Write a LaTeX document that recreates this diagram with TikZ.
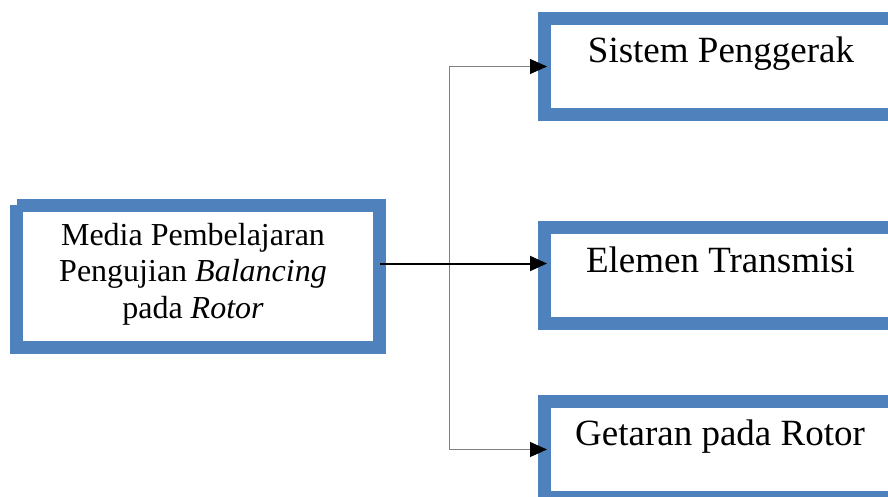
\documentclass[tikz,border=0pt]{standalone}
\usepackage{fontspec}
\setmainfont{Liberation Serif}
\usetikzlibrary{arrows.meta,calc}
\definecolor{boxblue}{HTML}{4F81BD}
\definecolor{linegray}{HTML}{808080}
\begin{document}
\begin{tikzpicture}[x=1pt,y=-1pt,
  bluebox/.style={draw=boxblue, line width=13pt, fill=white, inner sep=0pt},
  leftbox/.style={bluebox, minimum width=363pt, minimum height=142pt},
  rightbox/.style={bluebox, minimum width=353pt, minimum height=96pt},
  lefttext/.style={anchor=base, align=center, font=\fontsize{32}{36.5}\selectfont},
  righttext/.style={anchor=base, font=\fontsize{37}{44}\selectfont},
  mainarrow/.style={draw=black, line width=2pt, -{Triangle[length=17pt,width=15pt]}, shorten <=-6pt, shorten >=-9pt},
  branch/.style={draw=linegray, line width=1pt, -{Triangle[length=17pt,width=15pt,color=black]}, shorten >=-9pt},
  trunk/.style={draw=linegray, line width=1pt}]
\useasboundingbox (0,0) rectangle (888,497);
\fill[white] (0,0) rectangle (888,497);
% boxes
\node[leftbox] (main) at (198,276.5) {};
\fill[white] (9.5,198.5) rectangle (17,205);
\node[rightbox] (b1) at (721,66.5) {};
\node[rightbox] (b2) at (721,275.5) {};
\node[rightbox] (b3) at (721,449.5) {};
% texts
\node[lefttext] (maintext) at (193,318) {Media Pembelajaran\\Pengujian \textit{Balancing}\\pada \textit{Rotor}};
\node[righttext] (t1) at (721,63) {Sistem Penggerak};
\node[righttext] (t2) at (720.5,272) {Elemen Transmisi};
\node[righttext] (t3) at (720,445) {Getaran pada Rotor};
% connectors
\coordinate (split) at (449,263.5);
\draw[trunk] (split |- b1.west) -- (split |- b3.west);
\draw[branch] (split |- b1.west) -- (b1.west);
\draw[branch] (split |- b3.west) -- (b3.west);
\draw[mainarrow] (main.east |- split) -- (b2.west |- split);
\end{tikzpicture}
\end{document}
